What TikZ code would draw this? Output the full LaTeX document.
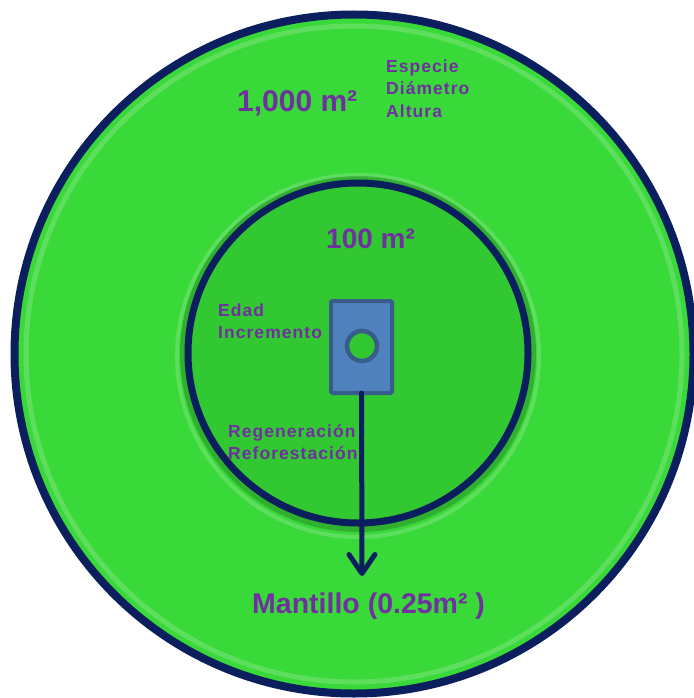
\documentclass[tikz,border=0pt]{standalone}
\usepackage{fontspec}
\setmainfont{Liberation Sans}
\newfontfamily\spacedsans[LetterSpace=6]{Liberation Sans}
\usetikzlibrary{arrows.meta}
\definecolor{outergreen}{HTML}{3AD93A}
\definecolor{innergreen}{HTML}{31C831}
\definecolor{navy}{HTML}{0B1F5E}
\definecolor{txtpurple}{HTML}{7030A0}
\definecolor{boxblue}{HTML}{4F81BD}
\definecolor{boxedge}{HTML}{385D8A}
\begin{document}
\begin{tikzpicture}[x=1pt,y=-1pt,
  smalllabel/.style={text=txtpurple,inner sep=0pt,anchor=base west,font=\spacedsans\bfseries\fontsize{17.5}{21}\selectfont},
  biglabel/.style={text=txtpurple,inner sep=0pt,anchor=base west,font=\bfseries\fontsize{30}{36}\selectfont},
  ring/.style={circle,draw=navy,inner sep=0pt,outer sep=0pt},
  plotbox/.style={rectangle,draw=boxedge,fill=boxblue,line width=4pt,rounded corners=1.5pt,minimum width=61pt,minimum height=92pt,inner sep=0pt,outer sep=0pt},
  treemark/.style={circle,draw=boxedge,fill=innergreen,line width=4.5pt,minimum size=30pt,inner sep=0pt}]
\useasboundingbox (0,0) rectangle (693,698);
\fill[white] (0,0) rectangle (693,698);
% outer ring
\node[ring,line width=8pt,fill=outergreen,minimum size=679pt] (outer) at (354,354) {};
\draw[white,opacity=0.18,line width=5pt] (354,354) circle [radius=328];
% inner circle with soft bevel
\draw[white,opacity=0.18,line width=4pt] (358,356) circle [radius=181];
\draw[black,opacity=0.18,line width=8pt] (358,354) circle [radius=174];
\node[ring,line width=7pt,fill=innergreen,minimum size=340pt] (inner) at (358,353) {};
% plot and tree
\node[plotbox] (plot) at (361.5,347) {};
\node[treemark] (tree) at (362,346) {};
\coordinate (tip) at (362,576);
\draw[navy,line width=5pt,line cap=round,-{Straight Barb[length=19pt,width=26pt,line width=5pt,line cap=round,line join=round]}] (plot.south) -- (tip);
% labels
\node[biglabel] (area1000) at (237,111) {1,000 m²};
\node[smalllabel] (especie) at (386,73) {Especie};
\node[smalllabel] (diametro) at (386,95) {Diámetro};
\node[smalllabel] (altura) at (386,117.5) {Altura};
\node[biglabel,font=\bfseries\fontsize{28}{34}\selectfont] (area100) at (326,248) {100 m²};
\node[smalllabel] (edad) at (218,316) {Edad};
\node[smalllabel] (incremento) at (218,338) {Incremento};
\node[smalllabel] (regeneracion) at (228,437) {Regeneración};
\node[smalllabel] (reforestacion) at (228,459) {Reforestación};
\node[biglabel,font=\bfseries\fontsize{28.5}{34}\selectfont] (mantillo) at (252,613) {Mantillo (0.25m² )};
\end{tikzpicture}
\end{document}
